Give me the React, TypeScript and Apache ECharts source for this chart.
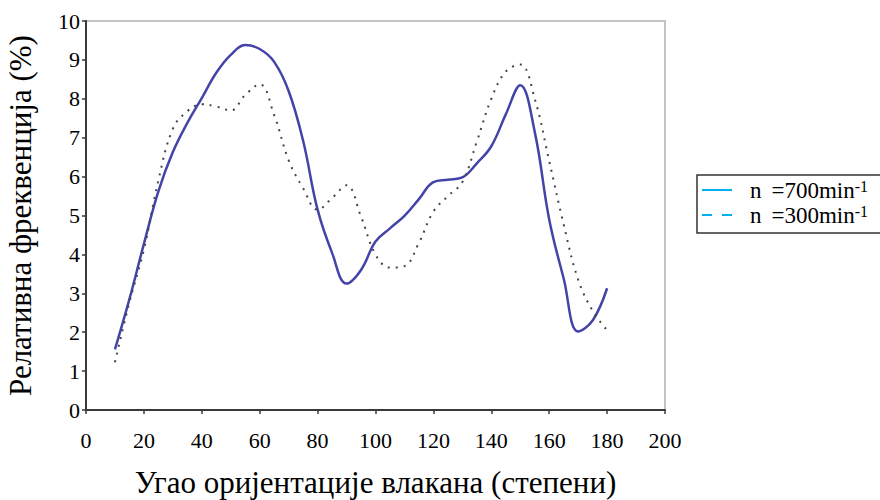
import React, { useEffect, useRef } from "react";
import * as echarts from "echarts";

const angles = [10, 15, 20, 25, 30, 35, 40, 45, 50, 55, 60, 65, 70, 75, 80, 85, 90, 95, 100, 105, 110, 115, 120, 125, 130, 135, 140, 145, 150, 155, 160, 165, 170, 175, 180];
const n700 = [1.56, 2.85, 4.27, 5.62, 6.63, 7.38, 8.02, 8.67, 9.13, 9.38, 9.28, 8.95, 8.2, 6.92, 5.15, 4.04, 3.25, 3.6, 4.33, 4.67, 4.99, 5.42, 5.86, 5.92, 5.98, 6.34, 6.78, 7.6, 8.35, 7.15, 4.9, 3.38, 2.02, 2.3, 3.13];
const n300 = [1.23, 2.77, 4.12, 5.9, 7.23, 7.68, 7.86, 7.8, 7.7, 8.1, 8.37, 7.58, 6.42, 5.7, 5.15, 5.45, 5.78, 4.97, 4.0, 3.66, 3.7, 4.3, 5.1, 5.5, 5.86, 6.9, 8.0, 8.7, 8.88, 8.0, 6.4, 4.77, 3.35, 2.55, 2.05];
const legendLabels = ["700", "300"];
const xTitle = "Угао оријентације влакана (степени)";
const yTitle = "Релативна фреквенција (%)";

const FONT = "Liberation Serif";

export default function App() {
  const ref = useRef<HTMLDivElement>(null);
  useEffect(() => {
    if (!ref.current) return;
    const chart = echarts.init(ref.current, null, { renderer: "svg" });
    const legendText = (v: string) => ({
      type: "text",
      style: {
        text: `{n|n}{t|=${v}min}{s|-1}`,
        rich: {
          n: { fontFamily: FONT, fontSize: 23, fill: "#000", padding: [0, 10, 0, 0] },
          t: { fontFamily: FONT, fontSize: 23, fill: "#000" },
          s: { fontFamily: FONT, fontSize: 16, fill: "#000", verticalAlign: "top" },
        },
        verticalAlign: "middle",
      },
    });
    chart.setOption({
      animation: false,
      backgroundColor: "#fff",
      textStyle: { fontFamily: FONT },
      grid: {
        left: 86,
        top: 21,
        right: 215,
        bottom: 90,
        containLabel: false,
        outerBoundsMode: "none",
        show: true,
        borderColor: "#c4c4c4",
        borderWidth: 2,
      },
      xAxis: {
        type: "value",
        min: 0,
        max: 200,
        interval: 20,
        name: xTitle,
        nameLocation: "middle",
        nameGap: 57,
        nameTextStyle: { fontFamily: FONT, fontSize: 31, color: "#000" },
        axisLine: { lineStyle: { color: "#3a3a3a", width: 2 } },
        axisTick: { show: true, length: 4, lineStyle: { color: "#3a3a3a", width: 1.5 } },
        axisLabel: { fontFamily: FONT, fontSize: 22, color: "#000", margin: 19 },
        splitLine: { show: false },
      },
      yAxis: {
        type: "value",
        min: 0,
        max: 10,
        interval: 1,
        name: yTitle,
        nameLocation: "middle",
        nameGap: 50,
        nameTextStyle: { fontFamily: FONT, fontSize: 31, color: "#000" },
        axisLine: { show: true, lineStyle: { color: "#3a3a3a", width: 2 } },
        axisTick: { show: true, length: 4, lineStyle: { color: "#3a3a3a", width: 1.5 } },
        axisLabel: { fontFamily: FONT, fontSize: 22, color: "#000", margin: 6 },
        splitLine: { show: false },
      },
      series: [
        {
          name: "n700",
          type: "line",
          data: angles.map((a, i) => [a, n700[i]]),
          smooth: 0.4,
          showSymbol: false,
          lineStyle: { color: "#4444a8", width: 2.5 },
          itemStyle: { color: "#4444a8" },
        },
        {
          name: "n300",
          type: "line",
          data: angles.map((a, i) => [a, n300[i]]),
          smooth: 0.4,
          showSymbol: false,
          lineStyle: { color: "#444", width: 2, type: [2, 6] },
          itemStyle: { color: "#444" },
        },
      ],
      graphic: [
        {
          type: "rect",
          shape: { x: 697, y: 175, width: 200, height: 58 },
          style: { fill: "#fff", stroke: "#333", lineWidth: 1.5 },
        },
        {
          type: "line",
          shape: { x1: 702, y1: 190, x2: 732, y2: 190 },
          style: { stroke: "#00b0f0", lineWidth: 2 },
        },
        {
          type: "line",
          shape: { x1: 702, y1: 215, x2: 732, y2: 215 },
          style: { stroke: "#00b0f0", lineWidth: 2, lineDash: [10, 10] },
        },
        { ...legendText(legendLabels[0]), x: 750, y: 190 },
        { ...legendText(legendLabels[1]), x: 750, y: 215 },
      ],
    });
    return () => chart.dispose();
  }, []);
  return (
    <div
      ref={ref}
      style={{ position: "fixed", left: 0, top: 0, width: 880, height: 500 }}
    />
  );
}
